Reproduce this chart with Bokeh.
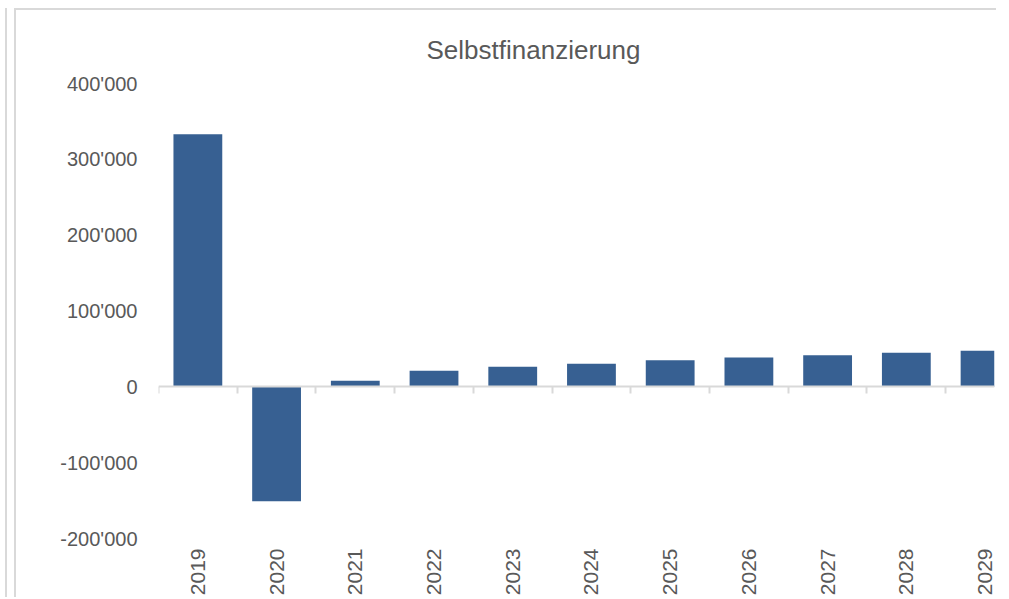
from bokeh.plotting import figure
from bokeh.models import Range1d, FixedTicker, LinearAxis, ColumnDataSource
from bokeh.embed import file_html
from bokeh.resources import INLINE

# ---- data ----
years = ["2019", "2020", "2021", "2022", "2023", "2024", "2025", "2026", "2027", "2028", "2029"]
values = [333000, -151000, 7900, 21100, 26400, 30400, 35200, 38700, 41800, 44900, 47500]
y_ticks = [-200000, -100000, 0, 100000, 200000, 300000, 400000]
y_tick_labels = ["-200'000", "-100'000", "0", "100'000", "200'000", "300'000", "400'000"]
title_text = "Selbstfinanzierung"

TEXT = "#595959"
GRID = "#d9d9d9"
BAR = "#376092"
FONT = "Liberation Sans"

idx = list(range(len(years)))
src = ColumnDataSource(dict(x=idx, top=values, year=years))

p = figure(width=982, height=589, output_backend="svg", toolbar_location=None,
           x_range=Range1d(-0.5, 10.12), y_range=Range1d(-200000, 400000),
           min_border_left=142, min_border_right=4, min_border_top=73, min_border_bottom=61)
p.margin = (8, 0, 0, 14)
p.styles = {"border-top": "2px solid #d9d9d9", "border-left": "2px solid #d9d9d9",
            "box-shadow": "-7px 0 0 0 #ffffff, -9px 0 0 0 #d9d9d9"}
p.background_fill_color = "white"
p.border_fill_color = "white"
p.outline_line_color = None
p.xgrid.visible = False
p.ygrid.visible = False

p.vbar(x="x", top="top", bottom=0, width=0.62, source=src, fill_color=BAR, line_color=None)

# y axis: labels only
ya = p.yaxis[0]
ya.ticker = FixedTicker(ticks=y_ticks)
ya.major_label_overrides = {t: l for t, l in zip(y_ticks, y_tick_labels)}
ya.axis_line_color = None
ya.major_tick_line_color = None
ya.minor_tick_line_color = None
ya.major_tick_out = 0
ya.minor_tick_out = 0
ya.major_label_standoff = 21
ya.major_label_text_font = FONT
ya.major_label_text_font_size = "20px"
ya.major_label_text_color = TEXT

# x axis labels at the bottom of the plot area
xa = p.xaxis[0]
xa.ticker = FixedTicker(ticks=idx)
xa.major_label_overrides = {i: y for i, y in zip(idx, years)}
xa.major_label_orientation = 3.14159265 / 2
xa.axis_line_color = None
xa.major_tick_line_color = None
xa.minor_tick_line_color = None
xa.major_tick_out = 0
xa.minor_tick_out = 0
xa.major_label_standoff = 10
xa.major_label_text_font = FONT
xa.major_label_text_font_size = "21px"
xa.major_label_text_color = TEXT

# category axis line at zero with tick marks between categories
za = LinearAxis(fixed_location=0)
za.ticker = FixedTicker(ticks=[], minor_ticks=[i - 0.5 for i in range(len(years) + 1)])
za.axis_line_color = GRID
za.axis_line_width = 2
za.major_tick_line_color = None
za.major_tick_out = 0
za.minor_tick_line_color = GRID
za.minor_tick_line_width = 2
za.minor_tick_in = 0
za.minor_tick_out = 7
za.major_label_standoff = 0
za.major_label_text_font_size = "0px"
p.add_layout(za, "below")

# title
p.title.text = title_text
p.title.text_font = FONT
p.title.text_font_size = "26px"
p.title.text_font_style = "normal"
p.title.text_color = TEXT
p.title.align = "left"
p.title.offset = 268
p.title.standoff = 37

open("out.html", "w").write(file_html(p, INLINE))
